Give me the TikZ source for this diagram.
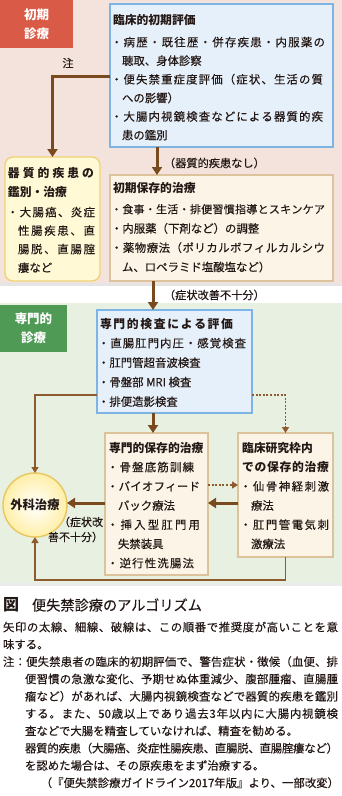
\documentclass[tikz,border=0pt]{standalone}
\usepackage{fontspec}
\setmainfont{Noto Sans CJK JP}[FakeBold=0.25, BoldFeatures={FakeBold=0}]
\usetikzlibrary{arrows.meta}
\ExplSyntaxOn
\cs_new_protected:Npn \my_spread:n #1
 {
  \bool_set_true:N \l_tmpa_bool
  \tl_map_inline:nn {#1}
   {
    \bool_if:NTF \l_tmpa_bool
     { \bool_set_false:N \l_tmpa_bool }
     { \hskip 0pt ~ plus ~ 1fil ~ minus ~ 0.6pt \relax }
    ##1
   }
 }
\cs_new_protected:Npn \jl #1 #2 { \makebox[#1][s]{ \my_spread:n {#2} } }
\ExplSyntaxOff
\definecolor{pinkbg}{HTML}{F3E3DC}
\definecolor{greenbg}{HTML}{E8F0E2}
\definecolor{redlab}{HTML}{D95B47}
\definecolor{greenlab}{HTML}{4F9A55}
\definecolor{bluefill}{HTML}{E6F0FA}
\definecolor{bluebd}{HTML}{7DB4E6}
\definecolor{beigefill}{HTML}{FCF4E6}
\definecolor{beigebd}{HTML}{DCC39B}
\definecolor{yelfill}{HTML}{FFF9D6}
\definecolor{yelbd}{HTML}{EFD376}
\definecolor{arrc}{HTML}{7A4A1F}
\definecolor{arrc2}{HTML}{8E5B2E}
\definecolor{circbd}{HTML}{E9C65E}
\definecolor{circout}{HTML}{FFEFA8}
\definecolor{ink}{HTML}{231815}
\begin{document}
\begin{tikzpicture}[x=1pt,y=-1pt,
  every node/.style={inner sep=0pt, outer sep=0pt, text=ink},
  txt/.style={anchor=base west, font=\fontsize{11.4}{13}\selectfont},
  ttl/.style={anchor=base west, font=\fontsize{11.8}{14}\selectfont\bfseries},
  lbl/.style={font=\fontsize{11.2}{13}\selectfont},
  body/.style={anchor=base west, font=\fontsize{11.4}{13}\selectfont},
  bluebox/.style={draw=bluebd, fill=bluefill, line width=1.2pt, anchor=north west},
  beigebox/.style={draw=beigebd, fill=beigefill, line width=1.4pt, anchor=north west},
  yelbox/.style={draw=yelbd, fill=yelfill, line width=1.4pt, rounded corners=8pt, anchor=north west},
  seclab/.style={anchor=north west, align=center, text=white, font=\fontsize{12.5}{19}\selectfont\bfseries},
  thickarr/.style={draw=arrc, line width=3pt, -{Triangle[width=10pt,length=8pt]}},
  thinarr/.style={draw=arrc2, line width=1.3pt, -{Triangle[width=7pt,length=6pt]}},
  dotarr/.style={thinarr, dash pattern=on 2pt off 1.6pt}
]
\useasboundingbox (0,0) rectangle (342,796);
\fill[white] (0,0) rectangle (342,796);
% sections
\fill[black!10] (0,283) rectangle (342,286);
\fill[pinkbg] (0,0) rectangle (342,283);
\fill[black!8] (0,303) rectangle (342,586);
\fill[greenbg] (0,303) rectangle (342,583);
\node[seclab, fill=redlab, minimum width=73pt, minimum height=48pt] (lab1) at (0,0) {初期\\診療};
\node[seclab, fill=greenlab, minimum width=67pt, minimum height=47pt] (lab2) at (0,305) {専門的\\診療};

% column / row helpers
\coordinate (x157) at (157,0);
\coordinate (x153) at (153,0);
\coordinate (y76) at (0,76);
\coordinate (y395) at (0,395);
\coordinate (y485) at (0,485);
\coordinate (y503) at (0,503);
\coordinate (y580) at (0,580);

% boxes
\node[bluebox, minimum width=223pt, minimum height=143pt] (b1) at (110,4) {};
\node[beigebox, minimum width=223pt, minimum height=106pt] (c1) at (110,175) {};
\node[yelbox, minimum width=95pt, minimum height=124pt] (y1) at (5,157) {};
\node[bluebox, minimum width=155pt, minimum height=103pt] (b2) at (97,310) {};
\node[beigebox, minimum width=103pt, minimum height=142pt] (d1) at (105,433) {};
\node[beigebox, minimum width=95pt, minimum height=124pt] (e1) at (238,433) {};
\node[circle, draw=circbd, line width=1.4pt, inner color=white, outer color=circout,
      minimum size=64pt, font=\fontsize{12.3}{14}\selectfont\bfseries] (s) at (35,505) {外科治療};

% texts box b1
\node[ttl] (b1t) at (113,24.7) {臨床的初期評価};
\node[txt] (b1a) at (111,46.4) {\jl{214pt}{・病歴・既往歴・併存疾患・内服薬の}};
\node[txt] (b1b) at (122,65) {聴取、身体診察};
\node[txt] (b1c) at (111,83.6) {\jl{212pt}{・便失禁重症度評価（症状、生活の質}};
\node[txt] (b1d) at (122,102.2) {への影響）};
\node[txt] (b1e) at (111,120.8) {\jl{212pt}{・大腸内視鏡検査などによる器質的疾}};
\node[txt] (b1f) at (122,139.4) {患の鑑別};
% texts box c1
\node[ttl] (c1t) at (113,192.7) {初期保存的治療};
\node[txt, font=\fontsize{11}{13}\selectfont] (c1a) at (111,213.4) {\jl{214pt}{・食事・生活・排便習慣指導とスキンケア}};
\node[txt] (c1b) at (111,232.7) {・内服薬（下剤など）の調整};
\node[txt] (c1c) at (111,252) {\jl{214pt}{・薬物療法（ポリカルボフィルカルシウ}};
\node[txt] (c1d) at (122,271.3) {ム、ロペラミド塩酸塩など）};
% texts box y1
\node[ttl] (y1t) at (8,177.7) {\jl{86pt}{器質的疾患の}};
\node[ttl] (y1u) at (8,196.7) {鑑別・治療};
\node[txt] (y1a) at (7,216.4) {\jl{88pt}{・大腸癌、炎症}};
\node[txt] (y1b) at (18,234.9) {\jl{77pt}{性腸疾患、直}};
\node[txt] (y1c) at (18,253.4) {\jl{77pt}{腸脱、直腸腟}};
\node[txt] (y1d) at (18,271.9) {瘻など};
% texts box b2
\node[ttl] (b2t) at (100,328.7) {\jl{133pt}{専門的検査による評価}};
\node[txt] (b2a) at (98,347.4) {\jl{148pt}{・直腸肛門内圧・感覚検査}};
\node[txt] (b2b) at (98,366.9) {・肛門管超音波検査};
\node[txt] (b2c) at (98,386.4) {・骨盤部 MRI 検査};
\node[txt] (b2d) at (98,405.9) {・排便造影検査};
% texts box d1
\node[ttl] (d1t) at (109,452.7) {専門的保存的治療};
\node[txt] (d1a) at (107,471.4) {\jl{87pt}{・骨盤底筋訓練}};
\node[txt] (d1b) at (107,490.6) {\jl{93pt}{・バイオフィード}};
\node[txt] (d1c) at (118,509.8) {バック療法};
\node[txt] (d1d) at (107,529) {\jl{93pt}{・挿入型肛門用}};
\node[txt] (d1e) at (118,548.2) {失禁装具};
\node[txt] (d1f) at (107,567.4) {\jl{87pt}{・逆行性洗腸法}};
% texts box e1
\node[ttl] (e1t) at (242,452.7) {臨床研究枠内};
\node[ttl] (e1u) at (242,471.7) {\jl{87pt}{での保存的治療}};
\node[txt] (e1a) at (240,490.6) {\jl{89pt}{・仙骨神経刺激}};
\node[txt] (e1b) at (251,509.8) {療法};
\node[txt] (e1c) at (240,529) {\jl{89pt}{・肛門管電気刺}};
\node[txt] (e1d) at (251,548.2) {激療法};

% labels
\node[lbl] (n1) at (68,63) {注};
\node[lbl, anchor=west] (l1) at (164,163) {（器質的疾患なし）};
\node[lbl, anchor=west] (l2) at (164,295) {（症状改善不十分）};
\node[lbl, anchor=east, font=\fontsize{11}{13}\selectfont] (l3) at (103,522) {（症状改};
\node[lbl, anchor=east, font=\fontsize{11}{13}\selectfont] (l4) at (103,537) {善不十分）};

% connectors
\draw[thickarr] (b1.west |- y76) -| (y1.north);
\draw[thickarr] (b1.south -| x157) -- (c1.north -| x157);
\draw[thickarr] (c1.south -| x153) -- (b2.north -| x153);
\draw[thickarr] (b2.south -| x153) -- (d1.north -| x153);
\draw[thinarr] (b2.west |- y395) -| (s.north);
\draw[dotarr] (b2.east |- y395) -| (e1.north);
\draw[dotarr] (d1.east |- y485) -- (e1.west |- y485);
\draw[thickarr] (e1.west |- y503) -- (d1.east |- y503);
\draw[thickarr] (d1.west |- y503) -- (s.east |- y503);
\draw[thinarr] (e1.south) -- (e1.south |- y580) -| (s.south);

% caption
\node[anchor=base west, font=\fontsize{14.2}{16}\selectfont] (cap) at (3,610.5) {{\fontsize{16}{16}\selectfont\bfseries 図}\hspace{13pt}便失禁診療のアルゴリズム};
\node[body] (t1) at (3,631.4) {\jl{335pt}{矢印の太線、細線、破線は、この順番で推奨度が高いことを意}};
\node[body] (t2) at (3,648.7) {味する。};
\node[body] (t3) at (3,666) {\jl{335pt}{注：便失禁患者の臨床的初期評価で、警告症状・徴候（血便、排}};
\node[body] (t4) at (25,683.3) {\jl{313pt}{便習慣の急激な変化、予期せぬ体重減少、腹部腫瘤、直腸腫}};
\node[body] (t5) at (25,700.6) {\jl{313pt}{瘤など）があれば、大腸内視鏡検査などで器質的疾患を鑑別}};
\node[body] (t6) at (25,717.9) {\jl{313pt}{する。また、{50}歳以上であり過去{3}年以内に大腸内視鏡検}};
\node[body] (t7) at (25,735.2) {査などで大腸を精査していなければ、精査を勧める。};
\node[body] (t8) at (25,752.5) {\jl{313pt}{器質的疾患（大腸癌、炎症性腸疾患、直腸脱、直腸腟瘻など）}};
\node[body] (t9) at (25,769.8) {を認めた場合は、その原疾患をまず治療する。};
\node[body, anchor=base east] (t10) at (339,787.1) {（『便失禁診療ガイドライン2017年版』より、一部改変）};
\end{tikzpicture}
\end{document}
